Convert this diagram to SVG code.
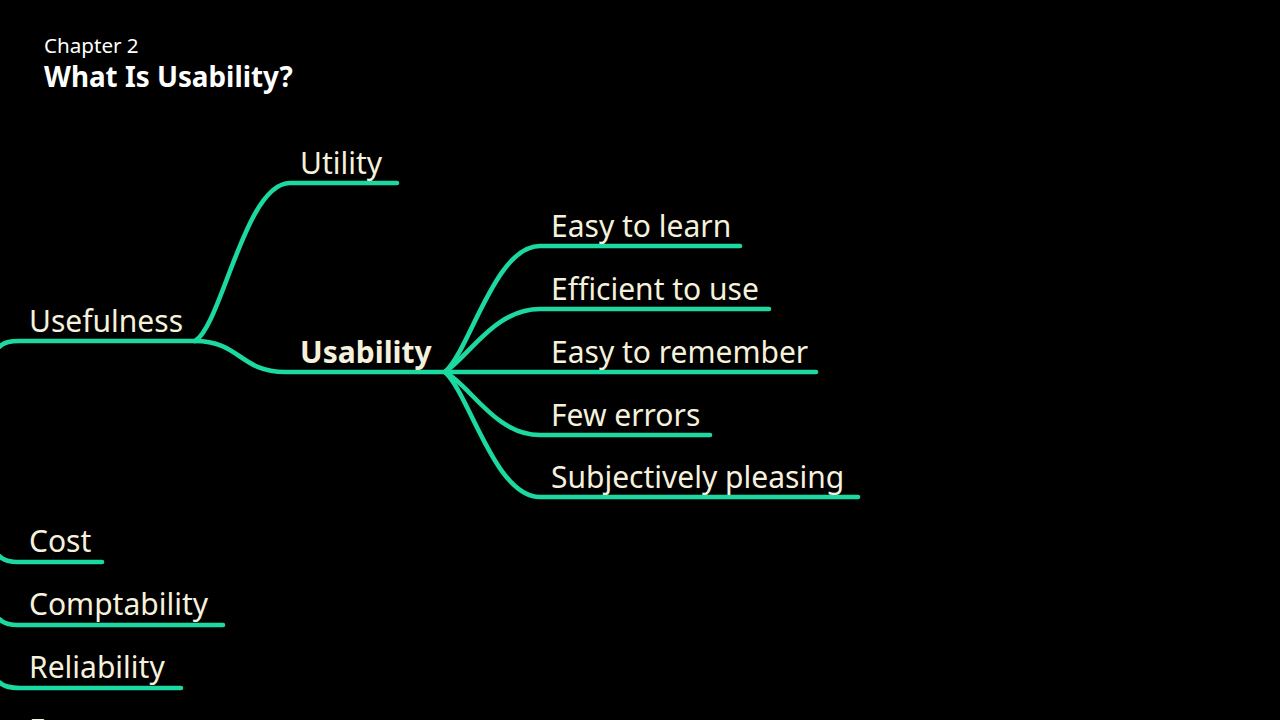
<svg xmlns="http://www.w3.org/2000/svg" width="1280" height="720" viewBox="0 0 1280 720">
<style>
.bg{fill:#000}
.lbl{font-family:"Noto Sans","Open Sans",sans-serif;font-size:30px;fill:#f6f1dc}
.bold{font-weight:bold}
.ln{fill:none;stroke:#1bd9a1;stroke-width:4.6;stroke-linecap:round;stroke-linejoin:round}
.t1{font-family:"Noto Sans","Open Sans",sans-serif;font-size:20.6px;fill:#fff}
.t2{font-family:"Noto Sans","Open Sans",sans-serif;font-size:27.8px;font-weight:bold;fill:#fff}
</style>
<rect class="bg" x="0" y="0" width="1280" height="720"/>
<g id="title">
<text class="t1" x="44" y="53">Chapter 2</text>
<text class="t2" x="44" y="87">What Is Usability?</text>
</g>
<g id="connectors">
<path class="ln" d="M-20,381 C-5,346 0,341 20,341 L195,341"/>
<path class="ln" d="M195,341 C222,325 245,183 290,183 L397,183"/>
<path class="ln" d="M195,341 C240,341 240,372 285,372 L445,372"/>
<path class="ln" d="M445,372 C470,350 495,246 540,246 L740,246"/>
<path class="ln" d="M445,372 C470,355 495,309 540,309 L769,309"/>
<path class="ln" d="M445,372 L816,372"/>
<path class="ln" d="M445,372 C470,385 495,435 540,435 L710,435"/>
<path class="ln" d="M445,372 C470,395 495,497 540,497 L858,497"/>
<path class="ln" d="M-20,522 C-5,557 0,562 20,562 L102,562"/>
<path class="ln" d="M-20,585 C-5,620 0,625 20,625 L223,625"/>
<path class="ln" d="M-20,650 C-5,683 0,688 20,688 L181,688"/>
</g>
<g id="node-usefulness"><text class="lbl" x="29" y="332">Usefulness</text></g>
<g id="node-utility"><text class="lbl" x="300" y="174">Utility</text></g>
<g id="node-usability"><text class="lbl bold" x="300" y="363">Usability</text></g>
<g id="node-easy-learn"><text class="lbl" x="551" y="237">Easy to learn</text></g>
<g id="node-efficient"><text class="lbl" x="551" y="300">Efficient to use</text></g>
<g id="node-remember"><text class="lbl" x="551" y="363">Easy to remember</text></g>
<g id="node-errors"><text class="lbl" x="551" y="426">Few errors</text></g>
<g id="node-pleasing"><text class="lbl" x="551" y="488">Subjectively pleasing</text></g>
<g id="node-cost"><text class="lbl" x="29" y="552">Cost</text></g>
<g id="node-comptability"><text class="lbl" x="29" y="615">Comptability</text></g>
<g id="node-reliability"><text class="lbl" x="29" y="678">Reliability</text></g>
<g id="node-etc"><text class="lbl" x="29" y="741">Etc.</text></g>
</svg>
